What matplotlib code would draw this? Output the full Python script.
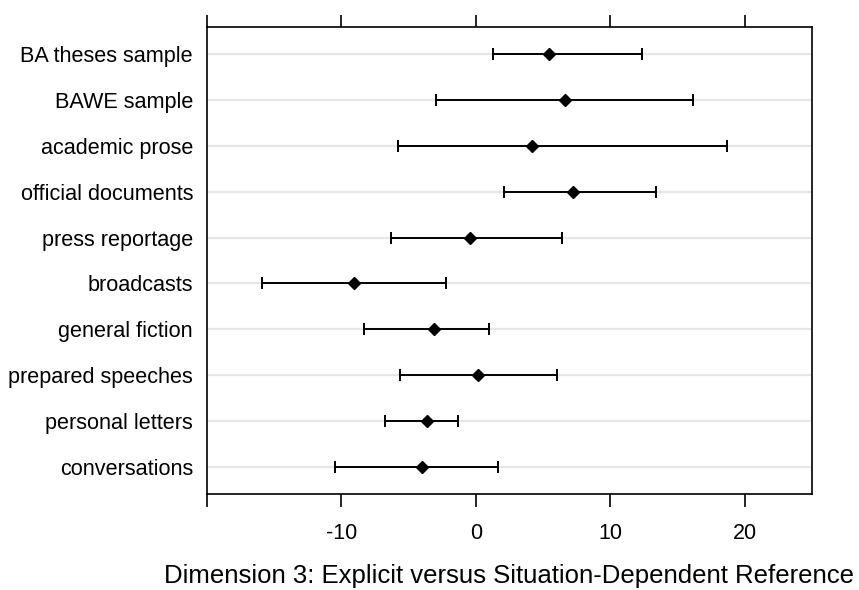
import matplotlib
matplotlib.use("Agg")
import matplotlib.pyplot as plt
import numpy as np

categories = ["BA theses sample", "BAWE sample", "academic prose", "official documents",
              "press reportage", "broadcasts", "general fiction", "prepared speeches",
              "personal letters", "conversations"]
means = [5.47, 6.62, 4.15, 7.21, -0.47, -9.09, -3.15, 0.18, -3.65, -4.03]
lower = [1.24, -3.0, -5.82, 2.09, -6.32, -15.88, -8.29, -5.68, -6.74, -10.5]
upper = [12.35, 16.18, 18.68, 13.38, 6.41, -2.24, 1.0, 6.06, -1.35, 1.62]
xticks = [-20, -10, 0, 10, 20]
xticklabels = ["", "-10", "0", "10", "20"]
xlabel = "Dimension 3: Explicit versus Situation-Dependent Reference"

fig = plt.figure(figsize=(8.59, 5.90), dpi=100)
ax = fig.add_axes([207/859, 1-494/590, (812-207)/859, (494-27)/590])

n = len(categories)
ypos = np.arange(n, 0, -1)
means_a = np.array(means)
err = np.vstack([means_a - np.array(lower), np.array(upper) - means_a])

for y in ypos:
    ax.axhline(y, color="#e6e6e6", lw=1.6, zorder=0)

ax.errorbar(means_a, ypos, xerr=err, fmt="D", color="black", ms=6.5, capsize=4,
            elinewidth=1.4, capthick=1.4, zorder=3)

ax.set_xlim(-20, 25)
ax.set_ylim(0.4, n + 0.6)
ax.set_yticks(ypos)
ax.set_yticklabels(categories, fontsize=15.6, family=["Liberation Sans", "DejaVu Sans"])
ax.tick_params(axis="y", length=0, pad=10)
ax.set_xticks(xticks)
ax.set_xticklabels(xticklabels, fontsize=15.5, family=["Liberation Sans", "DejaVu Sans"])
ax.tick_params(axis="x", direction="out", length=9, width=1.2, pad=12,
               top=True, labeltop=False, bottom=True)
for s in ax.spines.values():
    s.set_linewidth(1.2)
    s.set_color("black")
ax.set_xlabel(xlabel, fontsize=18.5, family=["Liberation Sans", "DejaVu Sans"],
              labelpad=14)

fig.savefig("out.png", dpi=100)
